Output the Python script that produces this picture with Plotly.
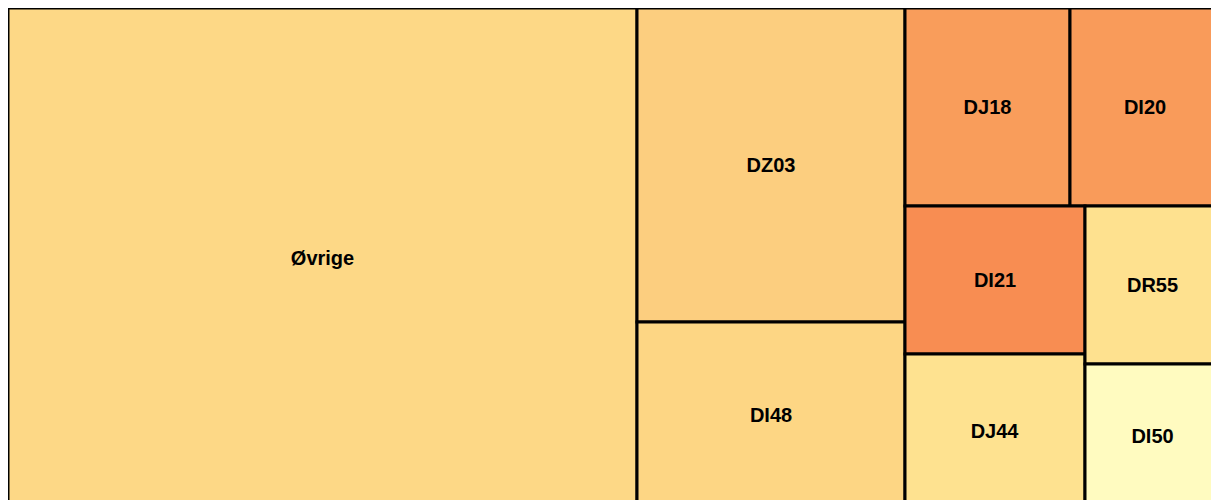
import plotly.graph_objects as go

labels = ["Øvrige", "DZ03", "DI48", "DJ18", "DI20", "DI21", "DJ44", "DR55", "DI50"]
parents = [""] * len(labels)
values = [314500, 84150, 49850, 32670, 29700, 26640, 27720, 21330, 19440]
colors = ["#FDD886", "#FCCE7F", "#FDD684", "#F99D5B", "#F99B5A", "#F88D52",
          "#FEE290", "#FEE18F", "#FFFBC0"]

fig = go.Figure(go.Treemap(
    labels=labels,
    parents=parents,
    values=values,
    sort=False,
    marker=dict(colors=colors, line=dict(color="black", width=3),
                pad=dict(t=0, l=0, r=0, b=0)),
    textposition="middle center",
    texttemplate="<b>%{label}</b>",
    textfont=dict(family="Liberation Sans, Arial", size=20, color="black"),
    pathbar=dict(visible=False),
    tiling=dict(pad=0),
    hoverinfo="label+value",
))
fig.update_layout(width=1212, height=500, margin=dict(l=0, r=0, t=0, b=0),
                  paper_bgcolor="white")
fig.write_html(
    "out.html",
    post_script=(
        "var h=document.documentElement, b=document.body;"
        "h.style.overflow='hidden'; b.style.overflow='hidden';"
        "b.style.margin='0'; b.style.width='100vw'; b.style.height='100vh';"
        "var g=document.getElementById('{plot_id}');"
        "g.style.marginLeft='8px'; g.style.marginTop='8px';"
    ),
)
